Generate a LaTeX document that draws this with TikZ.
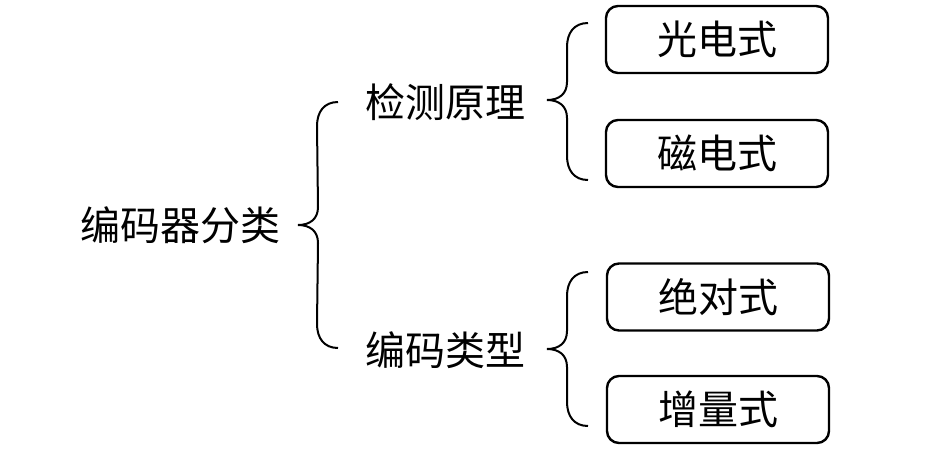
\documentclass[tikz,border=0pt]{standalone}
\usepackage{fontspec}
\setmainfont{Noto Sans CJK SC}
\usetikzlibrary{%
  calc,%
  positioning%
}
% brace: top end, tip, bottom end
\newcommand{\encbrace}[3]{%
\draw[bracel] (#1) .. controls +(-14,0) and +(0,-14) .. ($(#1)+(-21,24)$)
  -- ($(#2)+(20,-18)$) .. controls +(0,12) and +(12,0) .. (#2)
  .. controls +(12,0) and +(0,-12) .. ($(#2)+(20,18)$)
  -- ($(#3)+(-21,-24)$) .. controls +(0,14) and +(-14,0) .. (#3);}

\begin{document}
\begin{tikzpicture}[x=0.5pt,y=-0.5pt,
  lbl/.style={font=\fontsize{20}{24}\selectfont,inner sep=0pt},
  kind/.style={lbl,draw,line width=1.2pt,rounded corners=6pt,
    minimum width=111pt,minimum height=33.5pt},
  bracel/.style={line width=1pt}]
\useasboundingbox (0,0) rectangle (927,456);
\node[lbl] (enc) at (180,225) {编码器分类};
\node[lbl] (det) at (445,102) {检测原理};
\node[lbl] (cod) at (445,350) {编码类型};
\node[kind] (opt) at (717,39.5) {光电式};
\node[kind] (mag) at (717,153.5) {磁电式};
\node[kind] (abs) at (718,297) {绝对式};
\node[kind] (inc) at (718,409.5) {增量式};
%
\coordinate (et) at (338,102);
\coordinate (ep) at (298,225);
\coordinate (eb) at (338,348);
\coordinate (dt) at (588,23);
\coordinate (dp) at (547,100);
\coordinate (db) at (588,180);
\coordinate (ct) at (588,272);
\coordinate (cp) at (547,349);
\coordinate (cb) at (588,426);
\encbrace{et}{ep}{eb}
\encbrace{dt}{dp}{db}
\encbrace{ct}{cp}{cb}
\end{tikzpicture}
\end{document}
